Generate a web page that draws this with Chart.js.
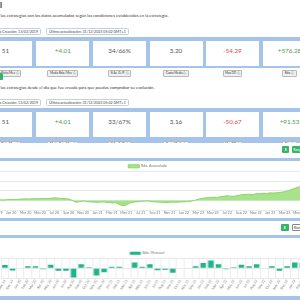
<!DOCTYPE html>
<html lang="es">
<head>
<meta charset="utf-8">
<title>Resumen estrategias</title>
<script src="https://cdn.jsdelivr.net/npm/chart.js@4.4.0/dist/chart.umd.min.js"></script>
<style>
  html, body { margin: 0; padding: 0; }
  body { width: 300px; height: 300px; overflow: hidden; position: relative; background: #fff; font-family: Lato, 'Noto Sans', sans-serif; color: #444; }
  .abs { position: absolute; }
  .titulo { top: 0; right: 298px; font-size: 8px; line-height: 10px; font-weight: 700; color: #333; white-space: nowrap; }
  .desc { left: 0.5px; font-size: 4.2px; line-height: 5px; color: #333; white-space: nowrap; }
  .fecha { height: 7px; line-height: 6px; font-size: 3.6px; border: 0.5px solid #c5d0dc; border-radius: 1.5px; padding: 0 2px; box-sizing: border-box; background: #fff; white-space: nowrap; color: #444; }
  .banda { left: 0; width: 300px; background: #a6c3ea; }
  .tarjeta { width: 53px; height: 25.3px; background: #fff; text-align: center; }
  .valor { position: absolute; left: 0; right: 0; top: 6.5px; font-size: 6.3px; line-height: 7px; color: #555; }
  .etiqueta { position: absolute; left: 0; right: 0; top: 17.5px; text-align: center; }
  .etiqueta span { display: inline-block; font-size: 3px; line-height: 4.5px; padding: 0 1.5px; background: #f1f1f1; border: 0.5px solid #b9b9b9; border-radius: 1px; color: #333; white-space: nowrap; }
  .verde { color: #4e9d4e; }
  .rojo { color: #e5474f; }
  .panel { left: 0; width: 300px; background: #fff; }
  .boton { height: 7.4px; width: 7.6px; border-radius: 1px; background: #36b56a; color: #fff; font-size: 4px; line-height: 7.4px; text-align: center; overflow: hidden; }
  .boton.borde { background: #fff; border: 0.5px solid #888; color: #333; box-sizing: border-box; width: 12px; text-align: left; padding-left: 1px; font-size: 3.6px; line-height: 6.4px; }
  .grafico { position: absolute; }
</style>
</head>
<body>

<div class="abs titulo">Resumen Global</div>
<div class="abs desc" style="top:13px">las estrategias con los datos acumulados según las condiciones establecidas en la estrategia.</div>
<div class="abs fecha" style="top:28px; right:259px">Fecha Creación: 13/02/2019</div>
<div class="abs fecha" style="top:28px; left:46px">Última actualización: 31/12/2023 05:02 GMT+1</div>

<div class="abs banda" style="top:37.3px; height:31px"></div>
<div class="abs tarjeta" style="top:40.7px; left:-21px"><div class="valor">51</div><div class="etiqueta"><span>Media Picks/Mes ⓘ</span></div></div>
<div class="abs tarjeta" style="top:40.7px; left:36.3px"><div class="valor verde">+4.01</div><div class="etiqueta"><span>Media Rdo./Mes ⓘ</span></div></div>
<div class="abs tarjeta" style="top:40.7px; left:93px"><div class="valor">34/66%</div><div class="etiqueta"><span>% Ac. G./P. ⓘ</span></div></div>
<div class="abs tarjeta" style="top:40.7px; left:149.5px"><div class="valor">3.20</div><div class="etiqueta"><span>Cuota Media ⓘ</span></div></div>
<div class="abs tarjeta" style="top:40.7px; left:206px"><div class="valor rojo">-54.29</div><div class="etiqueta"><span>Max DD ⓘ</span></div></div>
<div class="abs tarjeta" style="top:40.7px; left:263px"><div class="valor verde">+576.28</div><div class="etiqueta"><span>Rdo. ⓘ</span></div></div>

<div class="abs boton" style="top:72.7px; left:-8px; width:10.7px"></div>
<div class="abs desc" style="top:84.8px">las estrategias desde el día que fue creada para que puedas comprobar su evolución.</div>
<div class="abs fecha" style="top:98.8px; right:259px">Fecha Creación: 13/02/2019</div>
<div class="abs fecha" style="top:98.8px; left:46px">Última actualización: 31/12/2023 05:02 GMT+1</div>

<div class="abs banda" style="top:108.3px; height:192px"></div>
<div class="abs tarjeta" style="top:111.7px; left:-21px"><div class="valor">51</div><div class="etiqueta"><span>Media Picks/Mes ⓘ</span></div></div>
<div class="abs tarjeta" style="top:111.7px; left:36.3px"><div class="valor verde">+4.01</div><div class="etiqueta"><span>Media Rdo./Mes ⓘ</span></div></div>
<div class="abs tarjeta" style="top:111.7px; left:93px"><div class="valor">33/67%</div><div class="etiqueta"><span>% Ac. G./P. ⓘ</span></div></div>
<div class="abs tarjeta" style="top:111.7px; left:149.5px"><div class="valor">3.16</div><div class="etiqueta"><span>Cuota Media ⓘ</span></div></div>
<div class="abs tarjeta" style="top:111.7px; left:206px"><div class="valor rojo">-50.67</div><div class="etiqueta"><span>Max DD ⓘ</span></div></div>
<div class="abs tarjeta" style="top:111.7px; left:263px"><div class="valor verde">+91.53</div><div class="etiqueta"><span>Rdo. ⓘ</span></div></div>

<div class="abs panel" style="top:142.5px; height:15px"></div>
<div class="abs boton" style="top:146px; left:281.7px">⬇</div>
<div class="abs boton" style="top:146px; left:292.3px; width:12px; font-size:3.6px">Rango</div>

<div class="abs panel" style="top:160.5px; height:57.7px"></div>
<div class="grafico" style="top:160.5px; left:-10.7px; width:317px; height:53.8px"><canvas id="acumulado"></canvas></div>

<div class="abs panel" style="top:221px; height:13.7px"></div>
<div class="abs boton" style="top:224px; left:281px">⬇</div>
<div class="abs boton borde" style="top:224px; left:292px">Rango</div>

<div class="abs panel" style="top:237.7px; height:58.3px"></div>
<div class="grafico" style="top:248px; left:-12.9px; width:318.8px; height:43px"><canvas id="mensual"></canvas></div>

<script>
// Meses del gráfico acumulado (dos puntos por mes: día 1 y día 16)
const mesesAcum = ['Oct 19', 'Nov 19', 'Dec 19', 'Jan 20', 'Feb 20', 'Mar 20', 'Apr 20', 'May 20', 'Jun 20', 'Jul 20', 'Aug 20', 'Sep 20',
  'Oct 20', 'Nov 20', 'Dec 20', 'Jan 21', 'Feb 21', 'Mar 21', 'Apr 21', 'May 21', 'Jun 21', 'Jul 21', 'Aug 21', 'Sep 21',
  'Oct 21', 'Nov 21', 'Dec 21', 'Jan 22', 'Feb 22', 'Mar 22', 'Apr 22', 'May 22', 'Jun 22', 'Jul 22', 'Aug 22', 'Sep 22',
  'Oct 22', 'Nov 22', 'Dec 22', 'Jan 23', 'Feb 23', 'Mar 23', 'Apr 23', 'May 23'];

const rdoAcumulado = [0, 1, 2, 3, 2, 4, 5, 4, 6, 7,
  8, 7, 9, 8, 9, 10, 9, 11, 13, 12,
  10, 9, 7, 0, -10, -7, -3, -6, -8, -9,
  -10, -8, -9, -11, -13, -12, -20, -28, -24, -14,
  -9, -7, -5, -4, -3, -6, -8, -9, -10, -11,
  -10, -9, -10, -8, -8, -6, -4, 0, 6, 10,
  13, 14, 16, 15, 18, 21, 24, 22, 21, 26,
  29, 31, 32, 30, 34, 35, 37, 36, 39, 38,
  40, 42, 45, 50, 57, 64, 70, 74];

// Resultado mensual
const mesesMensual = ['Nov 19', 'Dec 19', 'Jan 20', 'Feb 20', 'Mar 20', 'Apr 20', 'May 20', 'Jun 20', 'Jul 20', 'Aug 20',
  'Sep 20', 'Oct 20', 'Nov 20', 'Dec 20', 'Jan 21', 'Feb 21', 'Mar 21', 'Apr 21', 'May 21', 'Jun 21',
  'Jul 21', 'Aug 21', 'Sep 21', 'Oct 21', 'Nov 21', 'Dec 21', 'Jan 22', 'Feb 22', 'Mar 22', 'Apr 22',
  'May 22', 'Jun 22', 'Jul 22', 'Aug 22', 'Sep 22', 'Oct 22', 'Nov 22', 'Dec 22', 'Jan 23', 'Feb 23'];

const rdoMensual = [3.3, -2.3, 0, 2, 2, -1, 3.5, -2.5, -2.5, -9.5,
  4, 1, -7.5, -4, 1.5, 1.5, -0.5, 6, 1.5, 4,
  -2, -1.5, -4.5, -0.5, 0.5, 2, 5.5, 8, 4, -1,
  1, 3.5, 2, 4, 0.5, 2, -2.5, 2, 6, 6];

Chart.defaults.font.family = 'Lato';
Chart.defaults.color = '#777';

// La leyenda ocupa poco alto, como en la página original
const alturaLeyenda = {
  id: 'alturaLeyenda',
  beforeLayout(chart) {
    const legend = chart.legend;
    if (!legend || legend._parcheado) return;
    const fit = legend.fit;
    legend.fit = function () {
      fit.call(this);
      this.height = 10.5;
    };
    legend._parcheado = true;
  }
};

const leyenda = {
  display: true,
  position: 'top',
  labels: { boxWidth: 11, boxHeight: 3, padding: 3.5, font: { size: 3.6 }, color: '#777' }
};

const etiquetasAcum = mesesAcum.flatMap(m => [m, m]);

new Chart(document.getElementById('acumulado'), {
  type: 'line',
  data: {
    labels: etiquetasAcum,
    datasets: [{
      label: 'Rdo. Acumulado',
      data: rdoAcumulado,
      fill: 'origin',
      backgroundColor: '#a8e38c',
      borderColor: '#8cd46a',
      borderWidth: 1,
      pointRadius: 0,
      tension: 0
    }]
  },
  options: {
    responsive: true,
    maintainAspectRatio: false,
    animation: false,
    layout: { padding: 0 },
    plugins: { legend: leyenda, tooltip: { enabled: false } },
    scales: {
      x: {
        grid: { display: false, drawTicks: false },
        border: { display: false },
        ticks: {
          autoSkip: false,
          maxRotation: 0,
          minRotation: 0,
          padding: 1,
          font: { size: 3.6 },
          callback: function (val, idx) { return idx % 4 === 2 ? this.getLabelForValue(val) : null; }
        },
        afterFit: (scale) => { scale.height = 4.8; }
      },
      y: {
        min: -50,
        max: 150,
        grid: { color: '#e8e8e8', drawTicks: false },
        border: { display: false },
        ticks: { display: false, stepSize: 50 }
      }
    }
  },
  plugins: [alturaLeyenda]
});

new Chart(document.getElementById('mensual'), {
  type: 'bar',
  data: {
    labels: mesesMensual,
    datasets: [{
      label: 'Rdo. Mensual',
      data: rdoMensual,
      backgroundColor: '#1fb48b',
      borderWidth: 0
    }]
  },
  options: {
    responsive: true,
    maintainAspectRatio: false,
    animation: false,
    layout: { padding: 0 },
    plugins: { legend: leyenda, tooltip: { enabled: false } },
    scales: {
      x: {
        grid: { color: '#ededed', drawTicks: false },
        border: { display: false },
        ticks: { autoSkip: false, minRotation: 58, maxRotation: 58, padding: 1, font: { size: 3.4 } },
        afterFit: (scale) => { scale.height = 13; }
      },
      y: {
        min: -10,
        max: 10,
        grid: { color: '#e8e8e8', drawTicks: false },
        border: { display: false },
        ticks: { display: false, stepSize: 10 },
        afterFit: (scale) => { scale.width = 14.1; }
      }
    }
  },
  plugins: [alturaLeyenda]
});
</script>
</body>
</html>
